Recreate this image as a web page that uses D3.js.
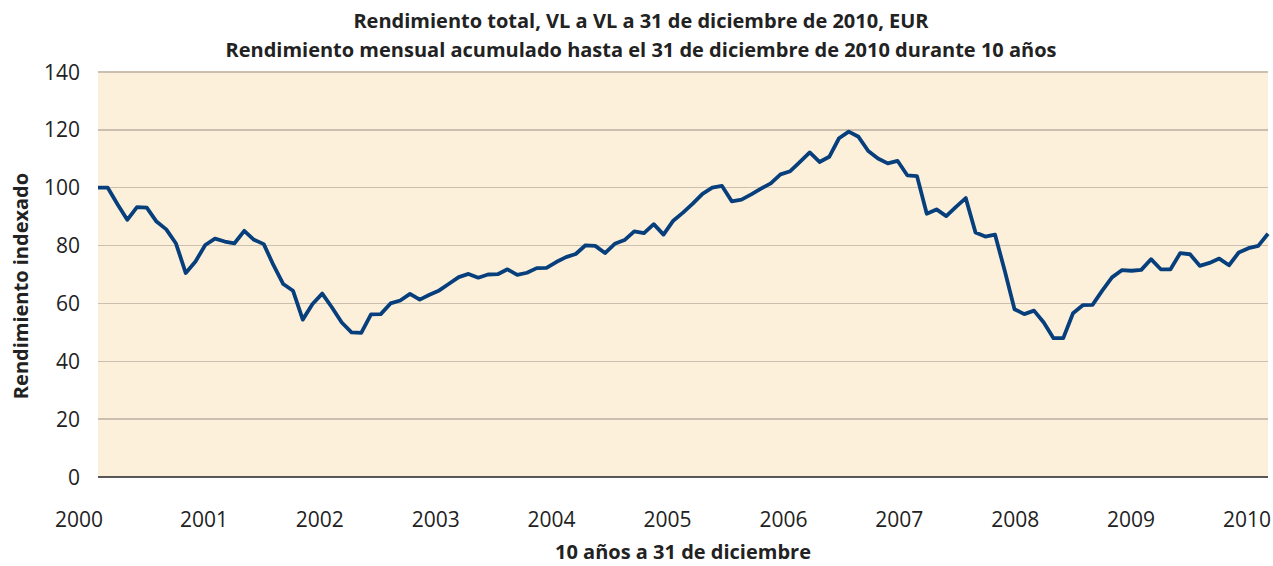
<!DOCTYPE html>
<html>
  <head>
    <meta http-equiv="Content-Type" content="text/html;charset=utf-8"/>
    <style type="text/css">

body {
  margin: 0;
  background: #fff;
  font-family: "Open Sans", "Noto Sans", sans-serif;
}

.grid line {
  stroke: #cbbfaf;
  stroke-width: 1.5px;
  shape-rendering: crispEdges;
}

.tick-label {
  font-size: 21px;
  fill: #222;
}

.title, .axis-title {
  font-weight: 700;
  fill: #222;
}

.title {
  font-size: 20px;
}

.axis-title {
  font-size: 20px;
}

    </style>
  </head>
  <body>
    <svg></svg>

    <script type="text/javascript" src="https://cdn.jsdelivr.net/npm/d3@7"></script>

    <script type="text/javascript">

// monthly index values, Dec 2000 .. Dec 2010 (121 points)
var values = [
  100.0, 100.0, 94.3, 88.9, 93.3, 93.1, 88.3, 85.6, 80.7, 70.5, 74.5, 80.2,
  82.4, 81.4, 80.8, 85.1, 82.0, 80.5, 73.2, 66.7, 64.4, 54.4, 59.8, 63.4,
  58.6, 53.4, 50.0, 49.8, 56.2, 56.3, 60.0, 61.0, 63.3, 61.3, 63.0, 64.5,
  66.8, 69.1, 70.2, 68.9, 70.0, 70.1, 71.8, 69.9, 70.6, 72.2, 72.3, 74.3,
  76.0, 77.1, 80.1, 79.9, 77.4, 80.6, 81.9, 84.9, 84.3, 87.4, 83.8, 88.6,
  91.4, 94.5, 97.9, 100.0, 100.6, 95.3, 95.9, 97.7, 99.7, 101.5, 104.6, 105.7,
  108.9, 112.2, 108.9, 110.7, 117.1, 119.4, 117.6, 112.7, 110.1, 108.4, 109.3, 104.3,
  104.0, 91.0, 92.5, 90.2, 93.4, 96.4, 84.5, 83.1, 83.8, 71.3, 58.0, 56.3,
  57.5, 53.4, 48.0, 48.0, 56.6, 59.4, 59.5, 64.4, 69.0, 71.5, 71.3, 71.6,
  75.3, 71.8, 71.8, 77.4, 77.0, 73.0, 74.0, 75.5, 73.2, 77.6, 79.1, 79.9,
  84.1
];

var yTicks = [0, 20, 40, 60, 80, 100, 120, 140];
var years = [2000, 2001, 2002, 2003, 2004, 2005, 2006, 2007, 2008, 2009, 2010];

var titleLines = [
  "Rendimiento total, VL a VL a 31 de diciembre de 2010, EUR",
  "Rendimiento mensual acumulado hasta el 31 de diciembre de 2010 durante 10 años"
];
var yTitle = "Rendimiento indexado";
var xTitle = "10 años a 31 de diciembre";

var W = 1273, H = 566,
    m = {top: 72, right: 5, bottom: 89, left: 98},
    w = W - m.left - m.right,
    h = H - m.top - m.bottom;

var svg = d3.select("svg")
    .attr("width", W)
    .attr("height", H);

var x = d3.scaleLinear().domain([0, values.length - 1]).range([m.left, m.left + w]);
var y = d3.scaleLinear().domain([0, 140]).range([m.top + h, m.top]);

// year labels sit on their own spacing, like the original
var xYear = d3.scaleLinear().domain([2000, 2010]).range([m.left - 10, m.left + w - 21]);

// plot background
svg.append("rect")
    .attr("x", m.left)
    .attr("y", m.top)
    .attr("width", w)
    .attr("height", h)
    .attr("fill", "#fcf0db");

// gridlines
svg.append("g")
    .attr("class", "grid")
  .selectAll("line")
    .data(yTicks.filter(function(d) { return d > 0; }))
  .enter().append("line")
    .attr("x1", m.left)
    .attr("x2", m.left + w)
    .attr("y1", function(d) { return y(d); })
    .attr("y2", function(d) { return y(d); });

// baseline
svg.append("line")
    .attr("x1", m.left)
    .attr("x2", m.left + w)
    .attr("y1", y(0))
    .attr("y2", y(0))
    .attr("stroke", "#222")
    .attr("stroke-width", 1.5);

// y tick labels
svg.append("g")
  .selectAll("text")
    .data(yTicks)
  .enter().append("text")
    .attr("class", "tick-label")
    .attr("x", m.left - 18)
    .attr("y", function(d) { return y(d); })
    .attr("dy", "0.36em")
    .attr("text-anchor", "end")
    .text(String);

// x tick labels
svg.append("g")
  .selectAll("text")
    .data(years)
  .enter().append("text")
    .attr("class", "tick-label")
    .attr("x", function(d, i) { return i === 0 ? m.left + 5 : xYear(d); })
    .attr("y", m.top + h + 50)
    .attr("text-anchor", function(d, i) { return i === 0 ? "end" : "middle"; })
    .text(String);

// line
var line = d3.line()
    .x(function(d, i) { return x(i); })
    .y(function(d) { return y(d); });

svg.append("path")
    .datum(values)
    .attr("d", line)
    .attr("fill", "none")
    .attr("stroke", "#073f7c")
    .attr("stroke-width", 3.8)
    .attr("stroke-linejoin", "round");

// titles
svg.append("g")
  .selectAll("text")
    .data(titleLines)
  .enter().append("text")
    .attr("class", "title")
    .attr("x", 641)
    .attr("y", function(d, i) { return 28 + i * 29; })
    .attr("text-anchor", "middle")
    .text(String);

svg.append("text")
    .attr("class", "axis-title")
    .attr("transform", "translate(28," + 286 + ") rotate(-90)")
    .attr("text-anchor", "middle")
    .text(yTitle);

svg.append("text")
    .attr("class", "axis-title")
    .attr("x", 683)
    .attr("y", 559)
    .attr("text-anchor", "middle")
    .text(xTitle);

    </script>
  </body>
</html>
